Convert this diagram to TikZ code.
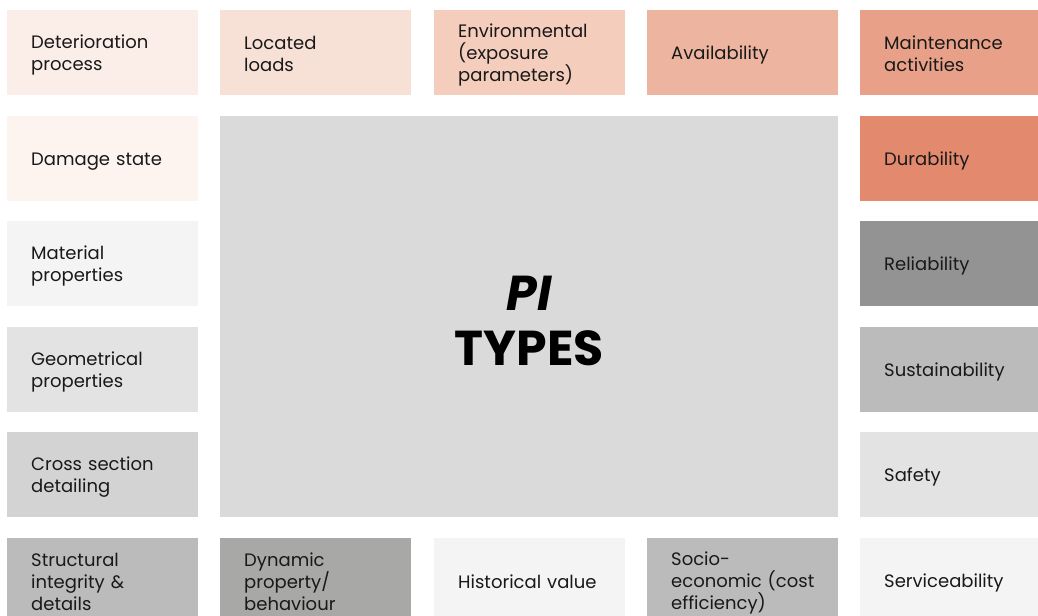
\documentclass[tikz,border=0pt]{standalone}
\usepackage{fontspec}
\setmainfont{Poppins}
\definecolor{cA}{HTML}{FBEDE8}
\definecolor{cB}{HTML}{F7E0D6}
\definecolor{cC}{HTML}{F4CDBC}
\definecolor{cD}{HTML}{EDB5A0}
\definecolor{cE}{HTML}{E9A088}
\definecolor{cF}{HTML}{E38A6E}
\definecolor{cG}{HTML}{FDF4F0}
\definecolor{gA}{HTML}{F4F4F4}
\definecolor{gB}{HTML}{E3E3E3}
\definecolor{gC}{HTML}{D3D3D3}
\definecolor{gD}{HTML}{BBBBBB}
\definecolor{gE}{HTML}{A8A8A6}
\definecolor{gF}{HTML}{939393}
\definecolor{gCenter}{HTML}{DADADA}
\newcommand\tilestrut{\vrule height 19bp depth 3bp width 0pt\relax}
\newcommand\tileskips{\lineskiplimit=-50bp\relax\lineskip=0pt\relax}
\tikzset{
  tile/.style={rectangle, anchor=north west, inner xsep=24bp, inner ysep=0pt,
    text width=143bp, minimum height=85bp, align=left, text=black!90,
    font=\fontsize{18bp}{22bp}\selectfont,
    execute at begin node={\tileskips\tilestrut}, execute at end node={\tilestrut}},
  edge/.style={tile, text width=130bp},
}
\begin{document}
\begin{tikzpicture}[x=1bp,y=-1bp]
\useasboundingbox (0,0) rectangle (1038,616);
\fill[white] (0,0) rectangle (1038,616);
% top row
\node[tile, fill=cA] (det) at (7,10) {Deterioration\\process};
\node[tile, fill=cB] (loc) at (220,10) {Located\\loads};
\node[tile, fill=cC] (env) at (434,10) {Environmental\\(exposure\\parameters)};
\node[tile, fill=cD] (ava) at (647,10) {Availability};
\node[edge, fill=cE] (mai) at (860,10) {Maintenance\\activities};
% left column
\node[tile, fill=cG] (dam) at (7,116) {Damage state};
\node[tile, fill=gA] (mat) at (7,221) {Material\\properties};
\node[tile, fill=gB] (geo) at (7,327) {Geometrical\\properties};
\node[tile, fill=gC] (cro) at (7,432) {Cross section\\detailing};
% right column
\node[edge, fill=cF] (dur) at (860,116) {Durability};
\node[edge, fill=gF] (rel) at (860,221) {Reliability};
\node[edge, fill=gD] (sus) at (860,327) {Sustainability};
\node[edge, fill=gB] (saf) at (860,432) {Safety};
% bottom row
\node[tile, fill=gD] (str) at (7,538) {Structural\\integrity~\&\\details};
\node[tile, fill=gE] (dyn) at (220,538) {Dynamic\\property/\\behaviour};
\node[tile, fill=gA] (his) at (434,538) {Historical~value};
\node[tile, fill=gD] (soc) at (647,538) {Socio-\\economic~(cost\\efficiency)};
\node[edge, fill=gA] (ser) at (860,538) {Serviceability};
% centre
\node[rectangle, fill=gCenter, anchor=north west, minimum width=618bp, minimum height=401bp,
  inner sep=0pt] (ctr) at (220,116) {};
\node[align=center, font=\fontsize{49bp}{55bp}\selectfont\bfseries, text=black] (pit) at ([yshift=-4.5bp]ctr.center)
  {\itshape PI\\TYPES};
\end{tikzpicture}
\end{document}
